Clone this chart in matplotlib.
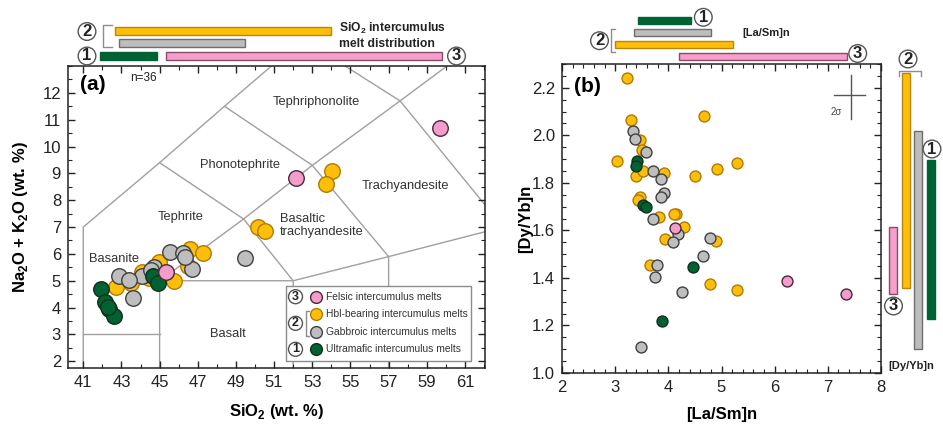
import matplotlib.pyplot as plt
from matplotlib.lines import Line2D
from matplotlib.patches import Rectangle
from matplotlib.ticker import MultipleLocator

plt.rcParams['font.family'] = ['Liberation Sans', 'DejaVu Sans']
plt.rcParams['mathtext.fontset'] = 'custom'
plt.rcParams['mathtext.rm'] = 'Liberation Sans'
plt.rcParams['mathtext.bf'] = 'Liberation Sans:bold'

W, H = 943, 424

# ---------------- data, panel (a): TAS ----------------
fel_sio2 = [59.69, 52.17, 45.33]
fel_alk = [10.70, 8.81, 5.31]
hbl_sio2 = [54.02, 53.74, 50.18, 50.53, 46.59, 47.25, 46.51, 44.95, 45.76,
            44.10, 43.50, 42.71, 44.40, 44.85, 44.45]
hbl_alk = [9.08, 8.60, 7.01, 6.86, 6.19, 6.04, 5.55, 5.70, 4.99,
           5.31, 4.93, 4.78, 5.25, 5.05, 5.10]
gab_sio2 = [45.54, 46.20, 46.72, 49.48, 44.72, 44.10, 42.88, 43.41, 43.58,
            46.35, 44.55]
gab_alk = [6.06, 6.04, 5.42, 5.85, 5.50, 5.16, 5.18, 5.03, 4.34,
           5.90, 5.40]
ult_sio2 = [41.93, 42.15, 42.36, 42.59, 44.63, 44.94, 42.28]
ult_alk = [4.69, 4.19, 3.94, 3.67, 5.16, 4.93, 4.02]

# TAS field boundaries (Le Bas et al.)
tas_lines = [
    [(41, 0), (41, 7), (45, 9.4), (48.4, 11.5), (52.5, 14)],
    [(41, 3), (45, 3)],
    [(45, 0), (45, 5), (52, 5), (57, 5.9), (63, 7), (69, 8)],
    [(45, 5), (49.4, 7.3), (53, 9.3), (57.6, 11.7), (61, 13.5)],
    [(52, 0), (52, 5), (49.4, 7.3), (45, 9.4)],
    [(57, 0), (57, 5.9), (53, 9.3), (48.4, 11.5)],
    [(63, 0), (63, 7), (57.6, 11.7), (52.5, 14)],
]

# ---------------- data, panel (b) ----------------
hbl_lasm = [3.23, 3.30, 4.67, 3.03, 3.47, 3.50, 3.40, 3.53, 3.91, 4.50, 4.91,
            5.30, 3.46, 3.43, 3.82, 4.15, 4.10, 4.30, 3.94, 4.90, 3.65, 4.78, 5.30]
hbl_dyyb = [2.241, 2.065, 2.082, 1.893, 1.981, 1.939, 1.829, 1.848, 1.841,
            1.829, 1.859, 1.883, 1.742, 1.728, 1.658, 1.669, 1.667, 1.616,
            1.564, 1.556, 1.455, 1.375, 1.349]
gab_lasm = [3.33, 3.38, 3.58, 3.72, 3.86, 3.92, 3.86, 3.72, 4.19, 4.09, 4.79,
            4.65, 3.79, 3.74, 4.26, 3.48]
gab_dyyb = [2.020, 1.985, 1.928, 1.851, 1.816, 1.759, 1.742, 1.648, 1.585,
            1.553, 1.567, 1.493, 1.455, 1.403, 1.342, 1.108]
ult_lasm = [3.41, 3.39, 3.53, 3.58, 4.47, 3.88]
ult_dyyb = [1.890, 1.869, 1.707, 1.700, 1.448, 1.220]
fel_lasm = [4.13, 6.23, 7.35]
fel_dyyb = [1.609, 1.389, 1.331]

# ranges of the groups (ultramafic, gabbroic, hbl, felsic)
sio2_lo = [41.87, 42.85, 42.68, 45.36]
sio2_hi = [44.84, 49.50, 53.97, 59.80]
lasm_lo = [3.43, 3.36, 3.00, 4.20]
lasm_hi = [4.43, 4.81, 5.21, 7.36]
dyyb_lo = [1.229, 1.101, 1.357, 1.333]
dyyb_hi = [1.897, 2.019, 2.262, 1.613]

fills = ['#006233', '#BEBEBE', '#FFBE0A', '#F59DCA']
edges = ['#10301C', '#404040', '#B07A00', '#4A2838']
bar_fills = ['#006233', '#BDBDBD', '#FFBE0A', '#F79FCB']
bar_edges = ['#006233', '#6E6E6E', '#B8860B', '#8A4A6A']


def fx(x):
    return x / W


def fy(y):
    return 1 - y / H


fig = plt.figure(figsize=(W / 100, H / 100), dpi=100)


def circled(x, y, num, size=12):
    fig.text(fx(x), fy(y), num, ha='center', va='center', fontsize=size,
             fontweight='bold', color='#222222',
             bbox=dict(boxstyle='circle,pad=0.08', fc='white', ec='#555555', lw=1))


def bracket(xs, ys):
    fig.add_artist(Line2D([fx(v) for v in xs], [fy(v) for v in ys],
                          color='#8C8C8C', lw=1))


def style_axes(ax):
    for s in ax.spines.values():
        s.set_linewidth(1.1)
        s.set_color('#222222')
    ax.tick_params(which='both', direction='in', top=True, right=True,
                   labelsize=12, colors='#222222')
    ax.tick_params(which='major', length=5, width=1, pad=5)
    ax.tick_params(which='minor', length=3, width=0.8)


# ================= panel (a) =================
ax_a = fig.add_axes([fx(68), fy(368), (485 - 68) / W, (368 - 66) / H])
for line in tas_lines:
    xs, ys = zip(*line)
    ax_a.plot(xs, ys, color='#A0A0A0', lw=1, zorder=1)

groups_a = [(hbl_sio2, hbl_alk, 2), (gab_sio2, gab_alk, 1),
            (ult_sio2, ult_alk, 0), (fel_sio2, fel_alk, 3)]
for xs, ys, k in groups_a:
    ax_a.scatter(xs, ys, s=125, c=fills[k], edgecolors=edges[k],
                 linewidths=1, zorder=3)

ax_a.set_xlim(40.2, 62.05)
ax_a.set_ylim(1.75, 13.0)
ax_a.xaxis.set_minor_locator(MultipleLocator(1))
ax_a.set_xticks(range(41, 62, 2))
ax_a.set_yticks(range(2, 13))
ax_a.yaxis.set_minor_locator(MultipleLocator(0.5))
style_axes(ax_a)
ax_a.set_xlabel(r'SiO$_\mathbf{2}$ (wt. %)', fontsize=12, fontweight='bold', labelpad=9)
ax_a.set_ylabel(r'Na$_\mathbf{2}$O + K$_\mathbf{2}$O (wt. %)', fontsize=12,
                fontweight='bold', labelpad=9)

lab_kw = dict(fontsize=9.3, color='#333333', ha='center', va='center', zorder=2)
ax_a.text(53.2, 11.65, 'Tephriphonolite', **lab_kw)
ax_a.text(49.2, 9.33, 'Phonotephrite', **lab_kw)
ax_a.text(57.9, 8.52, 'Trachyandesite', **lab_kw)
ax_a.text(46.1, 7.38, 'Tephrite', **lab_kw)
ax_a.text(51.3, 7.05, 'Basaltic\ntrachyandesite', fontsize=9.3, color='#333333',
          ha='left', va='center', linespacing=1.15)
ax_a.text(42.6, 5.82, 'Basanite', **lab_kw)
ax_a.text(48.6, 3.03, 'Basalt', **lab_kw)
fig.text(fx(143), fy(78), 'n=36', fontsize=8.5, ha='center', va='center', color='#222222')
fig.text(fx(93), fy(84), '(a)', fontsize=15, fontweight='bold', ha='center', va='center')

# legend box
fig.add_artist(Rectangle((fx(285.5), fy(361)), (471 - 285.5) / W, (361 - 285.5) / H,
                         transform=fig.transFigure, fc='white', ec='#8C8C8C', lw=1))
leg_rows = [(296.7, 3, 'Felsic intercumulus melts'),
            (314.3, 2, 'Hbl-bearing intercumulus melts'),
            (332.3, 1, 'Gabbroic intercumulus melts'),
            (349.3, 0, 'Ultramafic intercumulus melts')]
for y, k, txt in leg_rows:
    fig.add_artist(Line2D([fx(316)], [fy(y)], marker='o', ms=8.5, mfc=fills[k],
                          mec=edges[k], mew=1, ls='none'))
    fig.text(fx(326.5), fy(y), txt, fontsize=7.4, color='#333333', va='center')
circled(295.5, 296.7, '3', size=9)
circled(295.5, 323.3, '2', size=9)
circled(295.5, 349.3, '1', size=9)
bracket([309, 306, 306, 309], [310.7, 310.7, 335.7, 335.7])

# SiO2 range bars above (a)
ax_ta = fig.add_axes([fx(68), fy(66), (485 - 68) / W, 66 / H], sharex=ax_a)
ax_ta.set_ylim(66, 0)
ax_ta.axis('off')
rows_a = [55.8, 43.0, 30.8, 56.0]
for k in range(4):
    ax_ta.barh(rows_a[k], sio2_hi[k] - sio2_lo[k], left=sio2_lo[k], height=8,
               color=bar_fills[k], edgecolor=bar_edges[k], lw=1)
circled(87, 31.5, '2')
circled(87, 56, '1')
circled(456.5, 56, '3')
bracket([111.5, 103.3, 103.3, 111.5], [25, 25, 47.3, 47.3])
fig.text(fx(339), fy(35.5), 'SiO$_\\mathbf{2}$ intercumulus\nmelt distribution', fontsize=8.7,
         fontweight='bold', va='center', ha='left', linespacing=1.25, color='#222222')

# ================= panel (b) =================
ax_b = fig.add_axes([fx(562), fy(373), (881 - 562) / W, (373 - 64) / H])
groups_b = [(hbl_lasm, hbl_dyyb, 2), (gab_lasm, gab_dyyb, 1),
            (ult_lasm, ult_dyyb, 0), (fel_lasm, fel_dyyb, 3)]
for xs, ys, k in groups_b:
    ax_b.scatter(xs, ys, s=62, c=fills[k], edgecolors=edges[k],
                 linewidths=1, zorder=3)
ax_b.set_xlim(2, 8)
ax_b.set_ylim(1.0, 2.3)
ax_b.xaxis.set_major_locator(MultipleLocator(1))
ax_b.xaxis.set_minor_locator(MultipleLocator(0.2))
ax_b.set_yticks([1.0, 1.2, 1.4, 1.6, 1.8, 2.0, 2.2])
ax_b.yaxis.set_minor_locator(MultipleLocator(0.05))
style_axes(ax_b)
ax_b.set_xlabel('[La/Sm]n', fontsize=12, fontweight='bold', labelpad=9)
ax_b.set_ylabel('[Dy/Yb]n', fontsize=12, fontweight='bold', labelpad=-1)
fig.text(fx(587), fy(87), '(b)', fontsize=15, fontweight='bold', ha='center', va='center')

# 2 sigma cross
ax_b.plot([7.107, 7.698], [2.168, 2.168], color='#555555', lw=1)
ax_b.plot([7.434, 7.434], [2.068, 2.255], color='#555555', lw=1)
ax_b.text(7.15, 2.10, '2σ', fontsize=7, color='#444444', ha='center', va='center')

# [La/Sm]n range bars above (b)
ax_tb = fig.add_axes([fx(562), fy(64), (881 - 562) / W, 64 / H], sharex=ax_b)
ax_tb.set_ylim(64, 0)
ax_tb.axis('off')
rows_b = [20.5, 32.3, 44.5, 56.7]
for k in range(4):
    ax_tb.barh(rows_b[k], lasm_hi[k] - lasm_lo[k], left=lasm_lo[k], height=7.5,
               color=bar_fills[k], edgecolor=bar_edges[k], lw=1)
circled(703.3, 17.3, '1')
circled(599.5, 40.7, '2')
circled(857.7, 53.5, '3')
bracket([614.5, 610.7, 610.7, 614.5], [29.3, 29.3, 52.3, 52.3])
fig.text(fx(742), fy(33), '[La/Sm]n', fontsize=8, fontweight='bold',
         va='center', ha='left', color='#222222')

# [Dy/Yb]n range bars right of (b)
ax_rb = fig.add_axes([fx(881), fy(373), (943 - 881) / W, (373 - 64) / H], sharey=ax_b)
ax_rb.set_xlim(881, 943)
ax_rb.axis('off')
cols_b = [930.8, 918.2, 905.8, 893.3]
for k in range(4):
    ax_rb.bar(cols_b[k], dyyb_hi[k] - dyyb_lo[k], bottom=dyyb_lo[k], width=8.3,
              color=bar_fills[k], edgecolor=bar_edges[k], lw=1)
circled(908, 59, '2')
circled(932, 149, '1')
circled(893.5, 306, '3')
bracket([898.5, 898.5, 920.5, 920.5], [76, 70.5, 70.5, 76])
fig.text(fx(911), fy(366), '[Dy/Yb]n', fontsize=8, fontweight='bold',
         va='center', ha='center', color='#222222')

fig.savefig('out.png', dpi=100)
